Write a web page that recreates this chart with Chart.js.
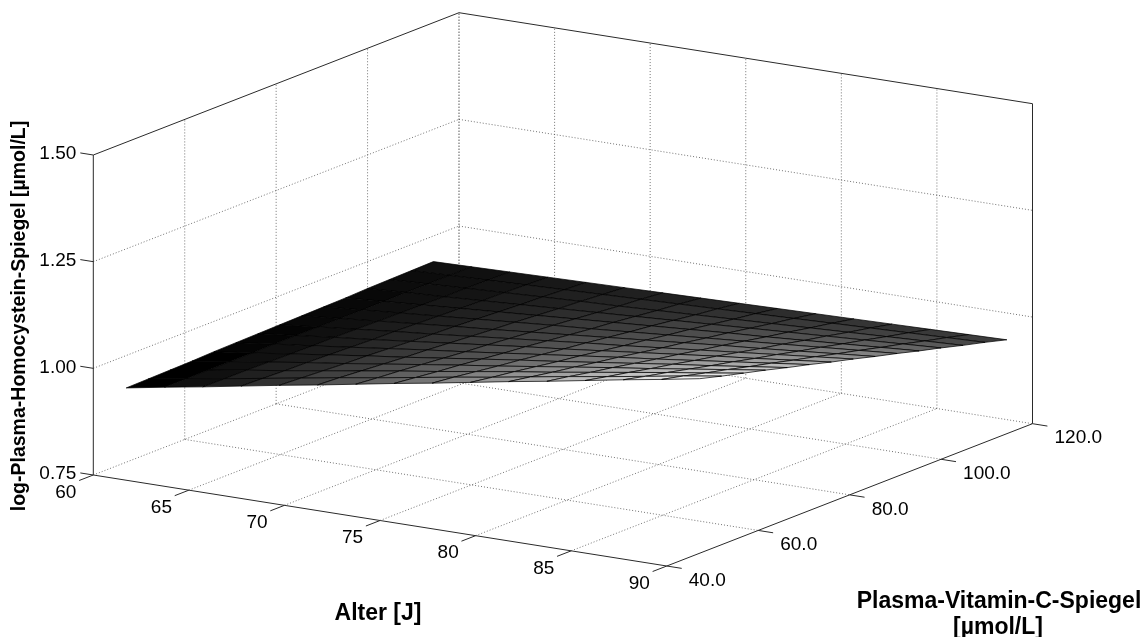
<!DOCTYPE html>
<html>
<head>
<meta charset="utf-8">
<script src="https://cdn.jsdelivr.net/npm/chart.js@4.4.0/dist/chart.umd.min.js"></script>
<style>
  html, body { margin: 0; padding: 0; background: #fff; }
  #wrap { width: 1145px; height: 637px; }
</style>
</head>
<body>
<div id="wrap"><canvas id="surfChart" width="1145" height="637"></canvas></div>
<script>
// axis ticks
const ageTicks = [60, 65, 70, 75, 80, 85, 90];
const vitcTicks = [40, 60, 80, 100, 120];
const vitcTickLabels = ['40.0', '60.0', '80.0', '100.0', '120.0'];
const zTicks = [0.75, 1.00, 1.25, 1.50];
const zTickLabels = ['0.75', '1.00', '1.25', '1.50'];

// surface grid (age along columns, vitamin C along rows)
const ageGrid = [60, 62, 64, 66, 68, 70, 72, 74, 76, 78, 80, 82, 84, 86, 88, 90];
const vitcGrid = [47.2, 52.0, 56.8, 61.6, 66.4, 71.2, 76.0, 80.8, 85.6, 90.4, 95.2, 100.0, 104.8, 109.6, 114.4];
const logHcy = [
  [0.924, 0.940, 0.955, 0.971, 0.987, 1.002, 1.018, 1.034, 1.049, 1.065, 1.081, 1.096, 1.112, 1.128, 1.143, 1.159],
  [0.925, 0.940, 0.954, 0.969, 0.984, 0.999, 1.013, 1.028, 1.043, 1.057, 1.072, 1.087, 1.101, 1.116, 1.131, 1.145],
  [0.926, 0.940, 0.954, 0.967, 0.981, 0.995, 1.009, 1.022, 1.036, 1.050, 1.063, 1.077, 1.091, 1.105, 1.118, 1.132],
  [0.927, 0.940, 0.953, 0.966, 0.978, 0.991, 1.004, 1.017, 1.029, 1.042, 1.055, 1.068, 1.080, 1.093, 1.106, 1.119],
  [0.929, 0.940, 0.952, 0.964, 0.976, 0.987, 0.999, 1.011, 1.023, 1.034, 1.046, 1.058, 1.070, 1.081, 1.093, 1.105],
  [0.930, 0.941, 0.951, 0.962, 0.973, 0.984, 0.994, 1.005, 1.016, 1.027, 1.038, 1.048, 1.059, 1.070, 1.081, 1.092],
  [0.931, 0.941, 0.951, 0.960, 0.970, 0.980, 0.990, 1.000, 1.009, 1.019, 1.029, 1.039, 1.049, 1.058, 1.068, 1.078],
  [0.932, 0.941, 0.950, 0.959, 0.967, 0.976, 0.985, 0.994, 1.003, 1.011, 1.020, 1.029, 1.038, 1.047, 1.056, 1.065],
  [0.933, 0.941, 0.949, 0.957, 0.965, 0.972, 0.980, 0.988, 0.996, 1.004, 1.012, 1.020, 1.027, 1.035, 1.043, 1.051],
  [0.934, 0.941, 0.948, 0.955, 0.962, 0.969, 0.976, 0.982, 0.989, 0.996, 1.003, 1.010, 1.017, 1.024, 1.031, 1.038],
  [0.935, 0.941, 0.947, 0.953, 0.959, 0.965, 0.971, 0.977, 0.983, 0.989, 0.995, 1.000, 1.006, 1.012, 1.018, 1.024],
  [0.937, 0.942, 0.946, 0.951, 0.956, 0.961, 0.966, 0.971, 0.976, 0.981, 0.986, 0.991, 0.996, 1.001, 1.006, 1.011],
  [0.938, 0.942, 0.946, 0.950, 0.954, 0.958, 0.961, 0.965, 0.969, 0.973, 0.977, 0.981, 0.985, 0.989, 0.993, 0.997],
  [0.939, 0.942, 0.945, 0.948, 0.951, 0.954, 0.957, 0.960, 0.963, 0.966, 0.969, 0.972, 0.975, 0.978, 0.981, 0.984],
  [0.940, 0.942, 0.944, 0.946, 0.948, 0.950, 0.952, 0.954, 0.956, 0.958, 0.960, 0.962, 0.964, 0.966, 0.968, 0.970]
];

// where the 3d box sits on the page (pixels)
const boxOrigin = { x: 93.3, y: 475 };
const ageVec = { x: 573.5, y: 91 };
const vitcVec = { x: 365.7, y: -142.3 };
const zVec = { x: 0, y: -320 };

const ageMin = ageTicks[0], ageMax = ageTicks[ageTicks.length - 1];
const vitcMin = vitcTicks[0], vitcMax = vitcTicks[vitcTicks.length - 1];
const zMin = zTicks[0], zMax = zTicks[zTicks.length - 1];

function norm(age, vitc, z) {
    return [(age - ageMin) / (ageMax - ageMin), (vitc - vitcMin) / (vitcMax - vitcMin), (z - zMin) / (zMax - zMin)];
}

function project(age, vitc, z) {
    const [a, v, h] = norm(age, vitc, z);
    return {
        x: boxOrigin.x + a * ageVec.x + v * vitcVec.x + h * zVec.x,
        y: boxOrigin.y + a * ageVec.y + v * vitcVec.y + h * zVec.y
    };
}

// viewing direction = null vector of the projection, pointing at the viewer
const viewDir = [
    -(vitcVec.x * zVec.y - zVec.x * vitcVec.y),
    -(zVec.x * ageVec.y - ageVec.x * zVec.y),
    -(ageVec.x * vitcVec.y - vitcVec.x * ageVec.y)
];
function nearness(age, vitc, z) {
    const p = norm(age, vitc, z);
    return p[0] * viewDir[0] + p[1] * viewDir[1] + p[2] * viewDir[2];
}

const datasets = [];
const gridStyle = { borderColor: 'rgba(70,70,70,0.75)', borderWidth: 1, borderDash: [1, 2] };
const boxStyle = { borderColor: '#2a2a2a', borderWidth: 1, borderDash: [] };

function addLine(p1, p2, style) {
    datasets.push({
        data: [project(...p1), project(...p2)],
        borderColor: style.borderColor,
        borderWidth: style.borderWidth,
        borderDash: style.borderDash,
        pointRadius: 0,
        fill: false,
        tension: 0,
        order: 1e7
    });
}

// floor
ageTicks.forEach(a => addLine([a, vitcMin, zMin], [a, vitcMax, zMin], a === ageMax ? boxStyle : gridStyle));
vitcTicks.forEach(v => addLine([ageMin, v, zMin], [ageMax, v, zMin], v === vitcMin ? boxStyle : gridStyle));
// left wall (age = 60)
vitcTicks.forEach(v => addLine([ageMin, v, zMin], [ageMin, v, zMax], v === vitcMin ? boxStyle : gridStyle));
zTicks.slice(1).forEach(z => addLine([ageMin, vitcMin, z], [ageMin, vitcMax, z], z === zMax ? boxStyle : gridStyle));
// back wall (vitamin C = 120)
ageTicks.forEach(a => addLine([a, vitcMax, zMin], [a, vitcMax, zMax], a === ageMax ? boxStyle : gridStyle));
zTicks.slice(1).forEach(z => addLine([ageMin, vitcMax, z], [ageMax, vitcMax, z], z === zMax ? boxStyle : gridStyle));

// tick marks
zTicks.forEach(z => addLine([ageMin, vitcMin, z], [ageMin - 0.68, vitcMin, z], boxStyle));
ageTicks.forEach(a => addLine([a, vitcMin, zMin], [a, vitcMin - 3.1, zMin], boxStyle));
vitcTicks.forEach(v => addLine([ageMax, v, zMin], [ageMax + 0.78, v, zMin], boxStyle));

// surface patches, coloured with a gray map on z
let cMin = Infinity, cMax = -Infinity;
logHcy.forEach(row => row.forEach(z => { cMin = Math.min(cMin, z); cMax = Math.max(cMax, z); }));

for (let j = 0; j < vitcGrid.length - 1; j++) {
    for (let i = 0; i < ageGrid.length - 1; i++) {
        const idx = [[i, j], [i + 1, j], [i + 1, j + 1], [i, j + 1], [i, j]];
        const pts = idx.map(([ii, jj]) => project(ageGrid[ii], vitcGrid[jj], logHcy[jj][ii]));
        const zc = logHcy[j][i];
        const level = Math.floor((zc - cMin) / (cMax - cMin) * 63.999) / 63;
        const g = Math.round(level * 255);
        const depth = nearness(
            (ageGrid[i] + ageGrid[i + 1]) / 2,
            (vitcGrid[j] + vitcGrid[j + 1]) / 2,
            (logHcy[j][i] + logHcy[j][i + 1] + logHcy[j + 1][i] + logHcy[j + 1][i + 1]) / 4
        );
        datasets.push({
            data: pts,
            backgroundColor: `rgb(${g},${g},${g})`,
            borderColor: 'rgba(0,0,0,0.9)',
            borderWidth: 0.8,
            pointRadius: 0,
            tension: 0,
            fill: 'shape',
            order: Math.round(-depth)
        });
    }
}

const font = '"Liberation Sans", Arial, Helvetica, sans-serif';

const axisText = {
    id: 'axisText',
    afterDatasetsDraw(chart) {
        const { ctx, scales: { x, y } } = chart;
        const at = (p) => ({ x: x.getPixelForValue(p.x), y: y.getPixelForValue(p.y) });
        ctx.save();
        ctx.fillStyle = '#000';
        ctx.font = '19px ' + font;
        ctx.textBaseline = 'middle';

        ctx.textAlign = 'right';
        zTicks.forEach((z, k) => {
            const p = at(project(ageMin, vitcMin, z));
            ctx.fillText(zTickLabels[k], p.x - 17, p.y - 1);
        });

        ctx.textAlign = 'center';
        ageTicks.forEach(a => {
            const p = at(project(a, vitcMin, zMin));
            ctx.fillText(String(a), p.x - 27.5, p.y + 17.5);
        });

        ctx.textAlign = 'left';
        vitcTicks.forEach((v, k) => {
            const p = at(project(ageMax, v, zMin));
            ctx.fillText(vitcTickLabels[k], p.x + 22, p.y + 14.5);
        });

        ctx.font = 'bold 23px ' + font;
        ctx.textAlign = 'center';
        ctx.fillText('Alter [J]', 378, 614);
        ctx.fillText('Plasma-Vitamin-C-Spiegel', 999, 602);
        ctx.fillText('[µmol/L]', 998, 628);

        ctx.font = 'bold 19.5px ' + font;
        ctx.translate(20, 316);
        ctx.rotate(-Math.PI / 2);
        ctx.fillText('log-Plasma-Homocystein-Spiegel [µmol/L]', 0, 0);
        ctx.restore();
    }
};

const surfChart = new Chart(document.getElementById('surfChart').getContext('2d'), {
    type: 'line',
    data: { datasets: datasets },
    options: {
        responsive: false,
        animation: false,
        events: [],
        layout: { padding: 0 },
        plugins: {
            legend: { display: false },
            tooltip: { enabled: false }
        },
        scales: {
            x: { type: 'linear', min: 0, max: 1145, display: false },
            y: { type: 'linear', min: 0, max: 637, reverse: true, display: false }
        }
    },
    plugins: [axisText]
});
</script>
</body>
</html>
